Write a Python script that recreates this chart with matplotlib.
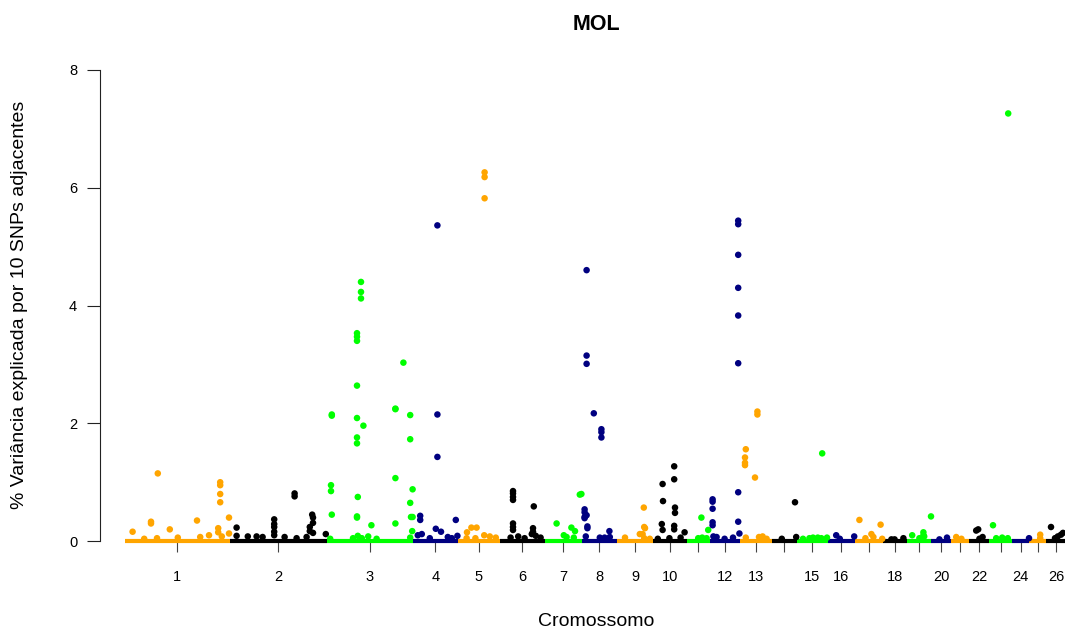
import numpy as np
import matplotlib
matplotlib.use("Agg")
import matplotlib.pyplot as plt

# comprimento aproximado de cada cromossomo (Mb)
chrom_lengths = [262, 243, 215, 112, 105, 113, 92, 88, 90, 85, 57, 75, 80,
                 62, 78, 67, 70, 62, 60, 50, 45, 50, 57, 43, 42, 49]
chrom_labels = ["1", "2", "3", "4", "5", "6", "7", "8", "9", "10", "", "12", "13",
                "", "15", "16", "", "18", "", "20", "", "22", "", "24", "", "26"]
palette = ["#FFA500", "#000000", "#00FF00", "#000080"]

# janelas acima da linha de base: posicao no cromossomo (Mb) e % variancia
snp_pos = [
    [82, 238, 238, 238, 238, 233, 233, 260, 260, 65, 65, 19, 112, 180, 132, 80, 210, 188, 242, 48],
    [162, 162, 17, 17, 111, 111, 111, 111, 111, 206, 208, 208, 208, 200, 200, 240, 45, 67, 82, 137, 167, 192],
    [85, 85, 85, 75, 75, 75, 75, 75, 75, 75, 75, 75, 191, 12, 12, 10, 10, 12, 171, 171, 171, 171,
     208, 208, 208, 91, 214, 214, 77, 210, 111, 213, 77, 103, 65, 87, 124, 8, 208],
    [61, 61, 61, 18, 18, 107, 57, 70, 22, 12, 111, 87, 97, 42],
    [67, 67, 67, 47, 34, 23, 66, 80, 95, 22, 44],
    [33, 33, 33, 33, 33, 33, 33, 85, 83, 83, 80, 90, 102, 46, 27, 62],
    [91, 87, 29, 66, 75, 47, 54, 72],
    [12, 12, 12, 30, 49, 49, 49, 7, 7, 12, 7, 7, 14, 14, 69, 10, 45, 57, 70],
    [67, 68, 70, 64, 57, 20, 68, 82],
    [53, 53, 53, 53, 24, 25, 55, 55, 22, 24, 79, 41, 69, 12],
    [36, 53, 38, 28, 49],
    [71, 71, 71, 71, 71, 71, 71, 71, 7, 7, 7, 7, 7, 74, 9, 17, 58, 37],
    [44, 44, 15, 13, 13, 13, 38, 15, 57, 48, 67],
    [58, 61, 25],
    [64, 53, 41, 32, 76, 16, 62],
    [21, 66, 30],
    [12, 65, 42, 47, 27, 69],
    [52, 30, 22],
    [59, 40, 40, 42, 12, 30],
    [39, 20],
    [12, 25],
    [22, 17, 33, 25],
    [47, 9, 32, 17, 46],
    [42],
    [27, 27],
    [12, 37, 29, 22, 42],
]
snp_val = [
    [1.15, 1.00, 0.95, 0.80, 0.66, 0.22, 0.15, 0.40, 0.13, 0.33, 0.30, 0.16, 0.20, 0.35, 0.06, 0.05, 0.10, 0.07, 0.08, 0.04],
    [0.81, 0.76, 0.23, 0.09, 0.37, 0.29, 0.24, 0.16, 0.10, 0.45, 0.40, 0.31, 0.14, 0.24, 0.17, 0.12, 0.08, 0.08, 0.07, 0.07, 0.05, 0.07],
    [4.40, 4.23, 4.12, 3.53, 3.47, 3.40, 2.64, 2.09, 1.76, 1.66, 0.42, 0.40, 3.03, 2.15, 2.13, 0.95, 0.85, 0.45, 2.25, 2.24, 1.07, 0.30,
     2.14, 1.73, 0.65, 1.96, 0.88, 0.41, 0.75, 0.41, 0.27, 0.17, 0.09, 0.08, 0.05, 0.05, 0.04, 0.04, 0.06],
    [5.36, 2.15, 1.43, 0.43, 0.36, 0.36, 0.21, 0.16, 0.12, 0.10, 0.09, 0.07, 0.05, 0.05],
    [6.26, 6.18, 5.82, 0.23, 0.23, 0.15, 0.10, 0.08, 0.06, 0.05, 0.05],
    [0.85, 0.81, 0.75, 0.70, 0.30, 0.24, 0.19, 0.59, 0.22, 0.16, 0.12, 0.09, 0.06, 0.08, 0.06, 0.05],
    [0.80, 0.79, 0.30, 0.23, 0.17, 0.10, 0.07, 0.06],
    [4.60, 3.15, 3.01, 2.17, 1.90, 1.85, 1.76, 0.54, 0.49, 0.44, 0.41, 0.39, 0.25, 0.22, 0.17, 0.08, 0.06, 0.06, 0.07],
    [0.57, 0.24, 0.22, 0.12, 0.12, 0.06, 0.05, 0.04],
    [1.27, 1.05, 0.26, 0.20, 0.97, 0.68, 0.57, 0.48, 0.29, 0.19, 0.15, 0.05, 0.06, 0.04],
    [0.40, 0.19, 0.06, 0.05, 0.05],
    [5.44, 5.38, 4.86, 4.30, 3.83, 3.02, 0.83, 0.33, 0.71, 0.67, 0.55, 0.32, 0.27, 0.13, 0.08, 0.07, 0.06, 0.04],
    [2.20, 2.15, 1.56, 1.42, 1.33, 1.29, 1.08, 0.06, 0.08, 0.07, 0.04],
    [0.66, 0.07, 0.04],
    [1.49, 0.06, 0.06, 0.05, 0.06, 0.04, 0.05],
    [0.10, 0.08, 0.04],
    [0.36, 0.28, 0.12, 0.07, 0.05, 0.04],
    [0.05, 0.03, 0.03],
    [0.42, 0.15, 0.10, 0.08, 0.10, 0.05],
    [0.06, 0.03],
    [0.07, 0.04],
    [0.20, 0.18, 0.07, 0.04],
    [7.26, 0.27, 0.06, 0.05, 0.05],
    [0.05],
    [0.11, 0.05],
    [0.24, 0.11, 0.08, 0.05, 0.14],
]
baseline_val = 0.01  # janelas com variancia ~0 formam a faixa continua

plt.rcParams['font.family'] = ['Liberation Sans', 'DejaVu Sans']

fig = plt.figure(figsize=(10.65, 6.32), dpi=100)
ax = fig.add_axes([100 / 1065, 72 / 632, 965 / 1065, 509 / 632])

starts = np.concatenate([[0], np.cumsum(chrom_lengths)[:-1]])
mids = starts + np.array(chrom_lengths) / 2

for i, (st, ln) in enumerate(zip(starts, chrom_lengths)):
    col = palette[i % 4]
    ax.hlines(baseline_val, st, st + ln, color=col, lw=3.0, capstyle='butt', zorder=2)
    ax.scatter(st + np.array(snp_pos[i]), snp_val[i], s=22, color=col,
               edgecolors='none', zorder=3)

ax.set_xlim(-62.5, 2350)
ax.set_ylim(-0.32, 8.32)

for s in ['top', 'right']:
    ax.spines[s].set_visible(False)
ax.spines['bottom'].set_position(('data', 0))
ax.spines['bottom'].set_color('none')
ax.spines['left'].set_bounds(0, 8)
ax.spines['left'].set_color('#222222')
ax.spines['left'].set_linewidth(0.8)

ax.set_yticks([0, 2, 4, 6, 8])
ax.set_yticklabels(['0', '2', '4', '6', '8'])
ax.set_xticks(mids)
ax.set_xticklabels(chrom_labels)
ax.tick_params(axis='y', length=9.4, width=0.8, color='#222222', pad=7, labelsize=10.5)
ax.tick_params(axis='x', length=8, width=0.8, color='#444444', pad=13, labelsize=10.5)

fig.text(596 / 1065, 1 - 25 / 632, 'MOL', ha='center', va='center',
         fontsize=15.5, fontweight='bold')
fig.text(596 / 1065, 1 - 622 / 632, 'Cromossomo', ha='center', va='center', fontsize=14)
fig.text(20 / 1065, 1 - 305 / 632, '% Variância explicada por 10 SNPs adjacentes',
         ha='center', va='center', rotation=90, fontsize=14)

fig.savefig('out.png', dpi=100)
